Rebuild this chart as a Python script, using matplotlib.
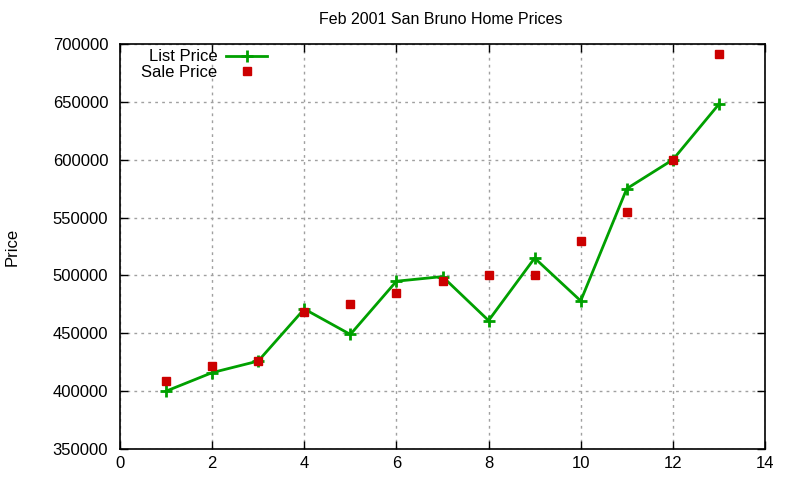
import matplotlib
matplotlib.use("Agg")
import matplotlib.pyplot as plt

plt.rcParams['font.family'] = ['Liberation Sans', 'DejaVu Sans']

x_vals = [1, 2, 3, 4, 5, 6, 7, 8, 9, 10, 11, 12, 13]
list_price = [400000, 416000, 426000, 471000, 449000, 495000, 499000,
              461000, 515000, 478000, 575000, 600000, 648000]
sale_price = [408500, 421500, 426000, 468000, 475000, 485000, 495000,
              500000, 500000, 530000, 555000, 600000, 691000]
x_ticks = [0, 2, 4, 6, 8, 10, 12, 14]
y_ticks = [350000, 400000, 450000, 500000, 550000, 600000, 650000, 700000]

fig = plt.figure(figsize=(8, 4.8), dpi=100)
ax = fig.add_axes([120/800, 1-449/480, (765-120)/800, (449-44)/480])

green = '#00a000'
red = '#cc0000'
ax.plot(x_vals, list_price, color=green, lw=2, marker='+', ms=9, mew=2,
        label='List Price', zorder=3)
ax.plot(x_vals, sale_price, ls='none', color=red, marker='s', ms=5.5,
        label='Sale Price', zorder=4)

ax.set_xlim(0, 14)
ax.set_ylim(350000, 700000)
ax.set_xticks(x_ticks)
ax.set_yticks(y_ticks)
ax.set_xticklabels([str(t) for t in x_ticks])
ax.set_yticklabels([str(t) for t in y_ticks])
ax.tick_params(direction='in', length=6, width=1, labelsize=12,
               top=True, right=True, colors='black')
ax.tick_params(axis='y', pad=8.5)
ax.tick_params(axis='x', pad=5)
ax.grid(True, color='#a0a0a0', ls=(0, (2, 3)), lw=1)
for s in ax.spines.values():
    s.set_linewidth(1.2)

fig.text(441/800, 1-20/480, 'Feb 2001 San Bruno Home Prices', ha='center',
         va='center', fontsize=11.5)
fig.text(12/800, 1-247/480, 'Price', rotation=90, ha='center', va='center',
         fontsize=12)

ax.legend(loc='upper left', bbox_to_anchor=(0.02, 1.007), frameon=False,
          markerfirst=False, fontsize=12, handlelength=2.5,
          handletextpad=0.5, labelspacing=0.05, borderaxespad=0.1,
          numpoints=1)

fig.savefig('out.png', dpi=100)
